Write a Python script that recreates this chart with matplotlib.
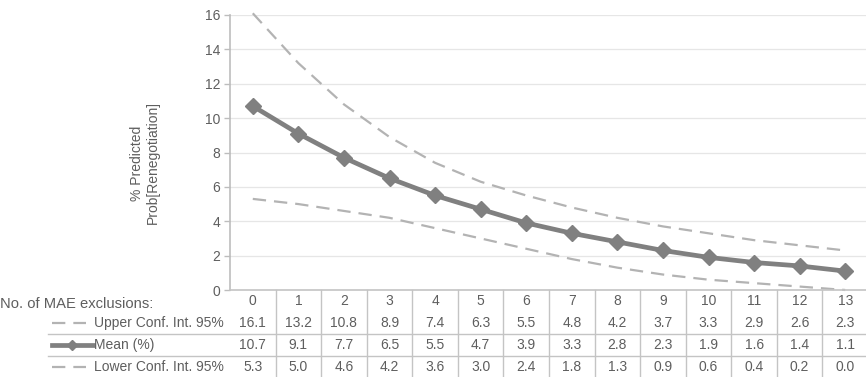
import matplotlib
matplotlib.use("Agg")
import matplotlib.pyplot as plt
from matplotlib.lines import Line2D
from matplotlib import transforms

# data
exclusions = list(range(14))
upper = [16.1, 13.2, 10.8, 8.9, 7.4, 6.3, 5.5, 4.8, 4.2, 3.7, 3.3, 2.9, 2.6, 2.3]
mean = [10.7, 9.1, 7.7, 6.5, 5.5, 4.7, 3.9, 3.3, 2.8, 2.3, 1.9, 1.6, 1.4, 1.1]
lower = [5.3, 5.0, 4.6, 4.2, 3.6, 3.0, 2.4, 1.8, 1.3, 0.9, 0.6, 0.4, 0.2, 0.0]
row_labels = ["Upper Conf. Int. 95%", "Mean (%)", "Lower Conf. Int. 95%"]
yticks = [0, 2, 4, 6, 8, 10, 12, 14, 16]

W, H = 866, 377
plt.rcParams['font.family'] = ['Liberation Sans', 'DejaVu Sans']
txt = '#5e5e5e'
mean_col = '#808080'
ci_col = '#b3b3b3'
fs = 10

fig = plt.figure(figsize=(W / 100, H / 100), dpi=100)


def fy(py):
    return 1 - py / H


def fx(px):
    return px / W


ax = fig.add_axes([fx(230), fy(290), fx(868) - fx(230), fy(15) - fy(290)])

dash = (6, 3.6)
ax.plot(exclusions, upper, color=ci_col, lw=1.6, dashes=dash, clip_on=False)
ax.plot(exclusions, lower, color=ci_col, lw=1.6, dashes=dash, clip_on=False)
ax.plot(exclusions, mean, color=mean_col, lw=3.4, marker='D', ms=8,
        clip_on=False, zorder=3)

ax.set_xlim(-0.5, 13.5)
ax.set_ylim(0, 16)
ax.set_yticks(yticks)
ax.set_xticks([])
ax.grid(axis='y', color='#e6e6e6', lw=0.9)
ax.set_axisbelow(True)
for s in ['top', 'right', 'bottom']:
    ax.spines[s].set_visible(False)
ax.spines['left'].set_color('#bdbdbd')
ax.spines['left'].set_linewidth(1.2)
ax.tick_params(axis='y', colors='#bdbdbd', labelcolor=txt, labelsize=fs,
               length=4, width=1, pad=3)

fig.text(fx(145), fy(163), "% Predicted\nProb[Renegotiation]", rotation=90,
         ha='center', va='center', color=txt, fontsize=fs, linespacing=1.1)

# data table under the axis
bt = transforms.blended_transform_factory(ax.transData, fig.transFigure)
line_col = '#c4c4c4'
fig.add_artist(Line2D([fx(230), 1], [fy(290), fy(290)], color=line_col, lw=1.2))
for py in [334, 356]:
    fig.add_artist(Line2D([fx(48), 1], [fy(py), fy(py)], color=line_col, lw=1.0))
for k in exclusions[:-1]:
    fig.add_artist(Line2D([k + 0.5, k + 0.5], [fy(290), 0], color=line_col,
                          lw=1.0, transform=bt))

row_y = [301, 323, 345, 367]
fig.text(0, fy(304), "No. of MAE exclusions:", ha='left', va='center',
         color=txt, fontsize=fs + 0.6)
for i, x in enumerate(exclusions):
    fig.text(x, fy(row_y[0]), str(x), transform=bt, ha='center', va='center',
             color=txt, fontsize=fs)
    for r, series in enumerate([upper, mean, lower]):
        fig.text(x, fy(row_y[r + 1]), f"{series[i]:.1f}", transform=bt,
                 ha='center', va='center', color=txt, fontsize=fs)

for r, label in enumerate(row_labels):
    yy = fy(row_y[r + 1])
    fig.text(fx(94), yy, label, ha='left', va='center', color=txt, fontsize=fs)
    if r == 1:
        fig.add_artist(Line2D([fx(52), fx(93)], [yy, yy], color=mean_col, lw=3.4))
        fig.add_artist(Line2D([fx(72)], [yy], color=mean_col, marker='D', ms=5,
                              lw=0))
    else:
        fig.add_artist(Line2D([fx(52), fx(86)], [yy, yy], color=ci_col, lw=1.6,
                              dashes=dash))

fig.savefig("out.png", dpi=100)
